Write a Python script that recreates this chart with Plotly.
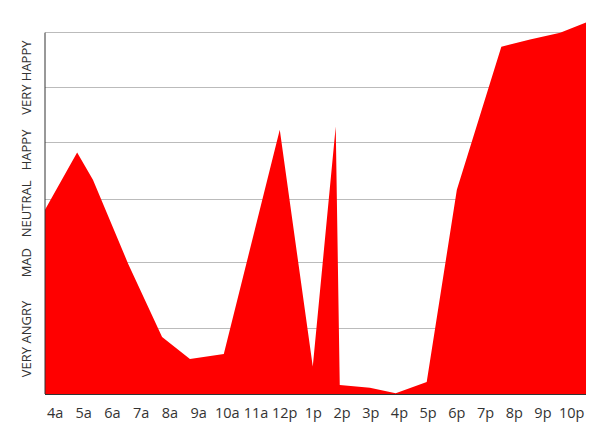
import plotly.graph_objects as go

# Mood samples over the day (hour of day, mood score: 0 = very angry, 100 = very happy)
hours = [3.65, 4.77, 5.32, 6.55, 7.73, 8.70, 9.88, 11.83, 12.98, 13.78, 13.92,
         14.97, 15.87, 16.95, 18.00, 19.55, 20.55, 21.60, 22.50]
mood = [51.0, 66.8, 59.3, 36.0, 15.8, 9.7, 11.1, 73.1, 7.6, 74.0, 2.5,
        1.7, 0.2, 3.3, 56.5, 96.1, 98.1, 100.0, 102.8]

tick_hours = list(range(4, 23))
tick_labels = ['4a', '5a', '6a', '7a', '8a', '9a', '10a', '11a', '12p', '1p',
               '2p', '3p', '4p', '5p', '6p', '7p', '8p', '9p', '10p']

mood_levels = ['VERY ANGRY', 'MAD', 'NEUTRAL', 'HAPPY', 'VERY HAPPY']
mood_level_pos = [14.7, 35.8, 50.7, 67.0, 87.0]
grid_vals = [18.0, 36.3, 53.7, 69.5, 84.8, 100.0]

FONT = 'Open Sans'

fig = go.Figure()
fig.add_trace(go.Scatter(
    x=hours, y=mood, mode='lines', fill='tozeroy',
    fillcolor='#ff0000', line=dict(color='#ff0000', width=0),
    hoverinfo='skip', showlegend=False,
))

# page body has an 8px default margin; margins compensate for it
fig.update_layout(
    width=616, height=439,
    margin=dict(l=37, r=38, t=12.4, b=53, autoexpand=False),
    paper_bgcolor='white', plot_bgcolor='white',
    font=dict(family=FONT, color='#333333'),
    xaxis=dict(
        range=[3.65, 22.5], tickmode='array', tickvals=tick_hours, ticktext=tick_labels,
        showgrid=False, zeroline=False, showline=True, linecolor='#333333', linewidth=1,
        ticks='', tickfont=dict(size=14.5, color='#333333'), ticklabelstandoff=6,
    ),
    yaxis=dict(
        range=[0, 103.5], tickmode='array', tickvals=mood_level_pos, ticktext=mood_levels,
        tickangle=-90, showgrid=False, zeroline=False, showline=False, ticks='',
        tickfont=dict(size=13, color='#333333'), ticklabelstandoff=10,
        minor=dict(tickmode='array', tickvals=grid_vals, showgrid=True,
                   gridcolor='#bbbbbb', gridwidth=1, ticks=''),
    ),
    shapes=[dict(type='line', xref='paper', yref='y', x0=0, x1=0, y0=0, y1=100,
                 line=dict(color='#333333', width=1))],
)

fig.write_html('out.html')
